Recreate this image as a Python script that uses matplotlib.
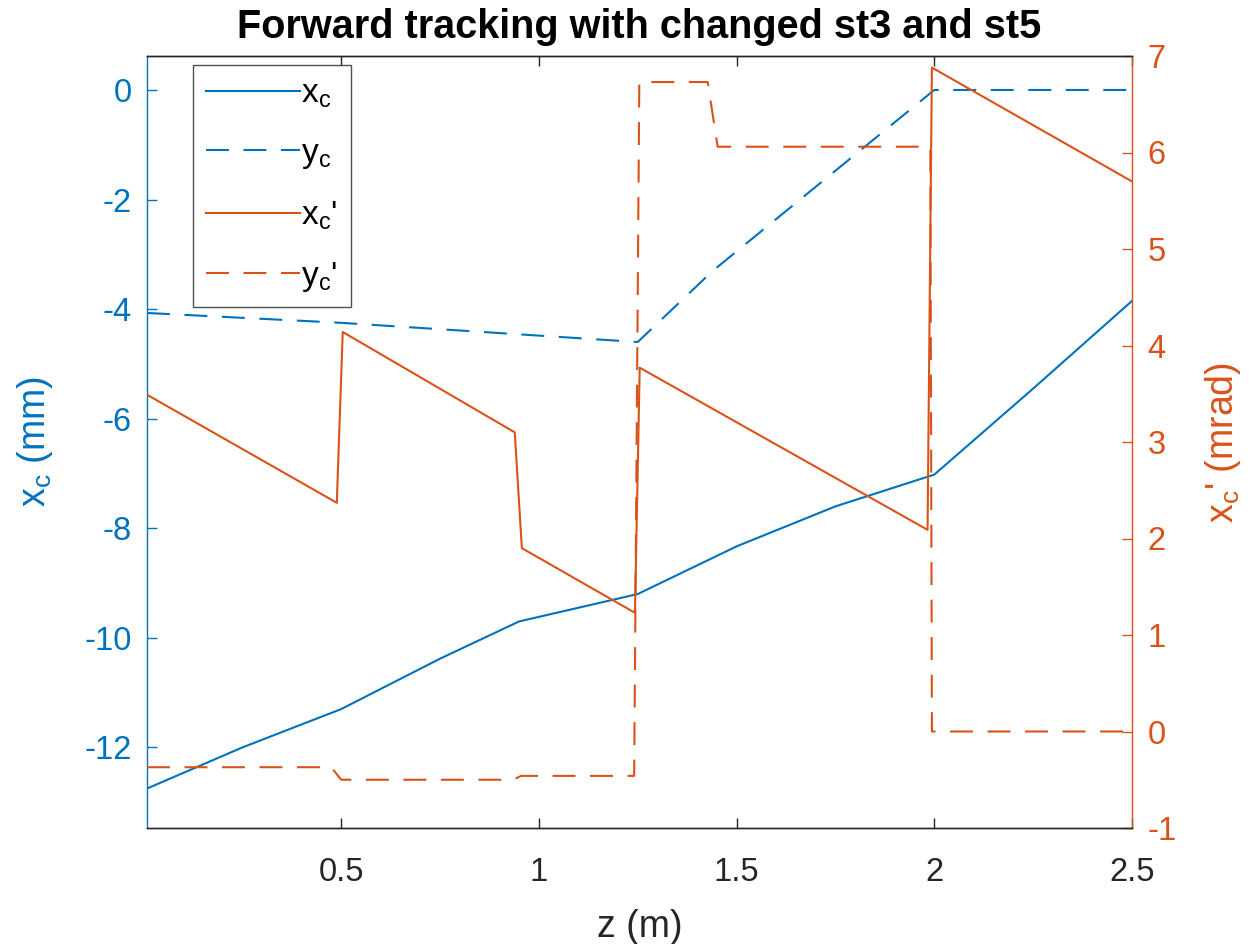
import matplotlib
matplotlib.use("Agg")
import matplotlib.pyplot as plt

plt.rcParams['font.family'] = ['Liberation Sans', 'DejaVu Sans']
plt.rcParams['mathtext.default'] = 'regular'
plt.rcParams['axes.unicode_minus'] = False

# ---- data ----
z_xc = [0.009, 0.25, 0.5, 0.75, 0.95, 1.1, 1.25, 1.5, 1.75, 2.0, 2.25, 2.5]
xc = [-12.75, -12.0, -11.3, -10.38, -9.7, -9.45, -9.2, -8.33, -7.6, -7.02, -5.45, -3.85]

z_yc = [0.009, 0.5, 1.25, 1.44, 2.0, 2.5]
yc = [-4.07, -4.25, -4.6, -3.3, 0.0, 0.0]

z_xp = [0.009, 0.489, 0.504, 0.939, 0.957, 1.243, 1.255, 1.983, 1.994, 2.5]
xp = [3.49, 2.37, 4.14, 3.10, 1.90, 1.23, 3.77, 2.09, 6.88, 5.70]

z_yp = [0.009, 0.475, 0.50, 0.935, 0.955, 1.241, 1.254, 1.427, 1.452, 1.990, 1.994, 2.5]
yp = [-0.37, -0.37, -0.50, -0.50, -0.46, -0.46, 6.73, 6.73, 6.06, 6.06, 0.0, 0.0]

xticks = [0.5, 1, 1.5, 2, 2.5]
lticks = [-12, -10, -8, -6, -4, -2, 0]
rticks = [-1, 0, 1, 2, 3, 4, 5, 6, 7]

BLUE = '#0072BD'
ORANGE = '#D95319'
DARK = '#262626'

fig = plt.figure(figsize=(12.5, 9.44), dpi=100)
ax = fig.add_axes([147/1250, 1-828/944, (1132-147)/1250, (828-56)/944])
ax2 = ax.twinx()

lw = 1.5
dash = (11, 7)
l1, = ax.plot(z_xc, xc, color=BLUE, lw=lw, label=r'x$_c$')
l2, = ax.plot(z_yc, yc, color=BLUE, lw=lw, dashes=dash, label=r'y$_c$')
l3, = ax2.plot(z_xp, xp, color=ORANGE, lw=lw, label=r"x$_c$'")
l4, = ax2.plot(z_yp, yp, color=ORANGE, lw=lw, dashes=dash, label=r"y$_c$'")

ax.set_xlim(0.009, 2.5)
ax.set_ylim(-13.47, 0.62)
ax2.set_ylim(-1, 7)
ax.set_xticks(xticks)
ax.set_xticklabels(['0.5', '1', '1.5', '2', '2.5'])
ax.set_yticks(lticks)
ax2.set_yticks(rticks)

fs = 23.5
ax.tick_params(axis='x', direction='in', length=7, width=1, colors=DARK,
               labelsize=fs, pad=21, top=True)
ax.tick_params(axis='y', direction='in', length=7, width=1, colors=BLUE,
               labelsize=fs, pad=11)
ax2.tick_params(axis='y', direction='in', length=7, width=1, colors=ORANGE,
                labelsize=fs, pad=11)

for a in (ax, ax2):
    a.spines['top'].set_color(DARK)
    a.spines['bottom'].set_color(DARK)
    for s in a.spines.values():
        s.set_linewidth(1.0)
ax.spines['left'].set_color(BLUE)
ax.spines['right'].set_visible(False)
ax2.spines['left'].set_visible(False)
ax2.spines['right'].set_color(ORANGE)

lab = 27
ax.set_xlabel('z (m)', fontsize=lab, color=DARK, labelpad=15)
ax.set_ylabel(r'x$_c$ (mm)', fontsize=lab, color=BLUE, labelpad=21)
ax2.set_ylabel(r"x$_c$' (mrad)", fontsize=lab, color=ORANGE, labelpad=19)
ax.set_title('Forward tracking with changed st3 and st5', fontsize=28.5,
             fontweight='bold', color='black', pad=13)

leg = ax2.legend(handles=[l1, l2, l3, l4], loc='upper left',
                 bbox_to_anchor=((193-147)/985, (828-65)/772),
                 borderaxespad=0, fontsize=24, frameon=True, fancybox=False,
                 handlelength=2.8, handletextpad=0.05, labelspacing=0.85,
                 borderpad=0.4)
leg.get_frame().set_edgecolor(DARK)
leg.get_frame().set_linewidth(1.0)

fig.savefig('out.png', dpi=100)
